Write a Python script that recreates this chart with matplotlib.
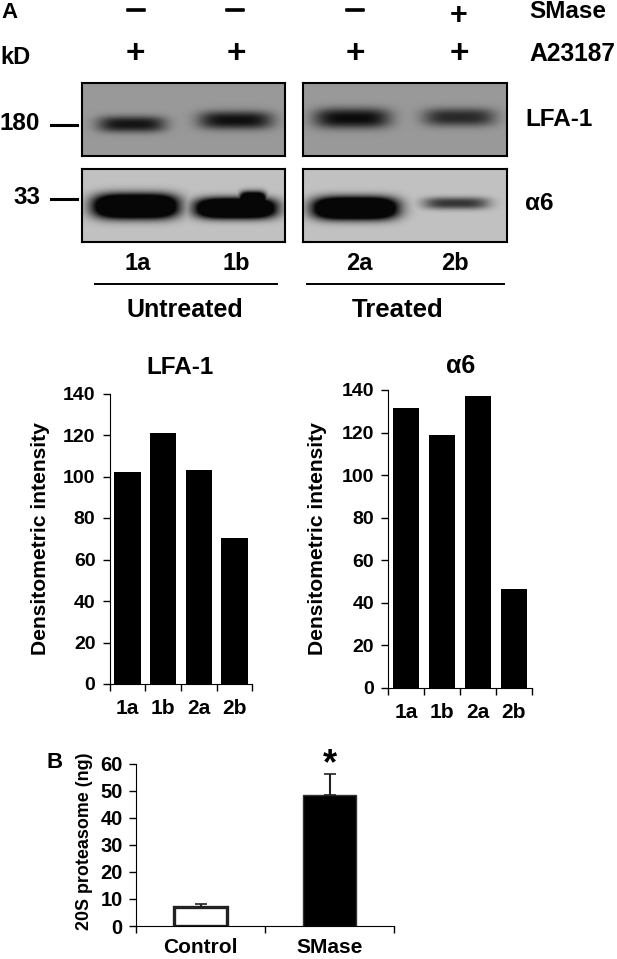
import numpy as np
import matplotlib
matplotlib.use('Agg')
import matplotlib.pyplot as plt
import matplotlib.patheffects as pe

W, H = 617, 959
plt.rcParams['font.family'] = ['Liberation Sans', 'DejaVu Sans']
plt.rcParams['font.weight'] = 'bold'

# Data
lanes = ['1a', '1b', '2a', '2b']
lfa1_values = [102, 121, 103, 70.5]
a6_values = [131.5, 119, 137, 46.5]
groups = ['Control', 'SMase']
proteasome = [7.2, 48.2]
proteasome_err = [0.8, 7.8]
density_ticks = [0, 20, 40, 60, 80, 100, 120, 140]
proteasome_ticks = [0, 10, 20, 30, 40, 50, 60]

# blot bands: centre x, centre y, half width, half height, darkness (pixels)
lfa_left = [(132, 124, 34, 8, 0.52), (236, 120, 37, 9, 0.54)]
lfa_right = [(352, 118, 38, 10, 0.56), (459, 117, 36, 9, 0.44)]
a6_left = [(136, 206, 42, 12, 1.6), (236, 208, 40, 10, 1.6), (253, 200, 13, 8, 1.6)]
a6_right = [(355, 208, 42, 11, 1.6), (456, 203, 33, 6, 0.55)]


def px_axes(x0, y0, x1, y1):
    return fig.add_axes([x0 / W, 1 - y1 / H, (x1 - x0) / W, (y1 - y0) / H])


def blot(box, bands, bg):
    ax = px_axes(*box)
    xs, ys = np.meshgrid(np.arange(box[0], box[2], 0.5), np.arange(box[1], box[3], 0.5))
    dark = np.zeros_like(xs)
    for cx, cy, hw, hh, d in bands:
        r = np.abs((xs - cx) / hw) ** 4 + np.abs((ys - cy) / hh) ** 2.5
        dark = np.maximum(dark, d * np.exp(-r))
    img = np.clip(bg - dark, 0.03, 1)
    ax.imshow(img, cmap='gray', vmin=0, vmax=1, aspect='auto', interpolation='bilinear')
    ax.set_xticks([])
    ax.set_yticks([])
    for s in ax.spines.values():
        s.set_linewidth(1.5)


def bar_chart(box, values, title, title_x, title_y, title_size, label_x):
    ax = px_axes(*box)
    ax.bar(range(4), values, width=0.74, color='black')
    ax.set_xlim(-0.5, 3.5)
    ax.set_ylim(0, 140)
    ax.set_yticks(density_ticks)
    ax.set_xticks(np.arange(-0.5, 4, 1), minor=False)
    ax.set_xticklabels([])
    for i, lab in enumerate(lanes):
        ax.annotate(lab, (i, 0), xytext=(0, -11), textcoords='offset points',
                    ha='center', va='top', fontsize=15)
    ax.tick_params(axis='y', labelsize=14, width=1, length=4.7, pad=5.4)
    ax.tick_params(axis='x', width=1, length=4.7, direction='out')
    ax.spines['top'].set_visible(False)
    ax.spines['right'].set_visible(False)
    ax.set_ylabel('Densitometric intensity', fontsize=15.2, fontweight='bold')
    ax.yaxis.set_label_coords((label_x - box[0]) / (box[2] - box[0]), 0.5)
    ov.text(title_x, title_y, title, ha='center', va='center', fontsize=title_size)


fig = plt.figure(figsize=(W / 100, H / 100), dpi=100)
ov = fig.add_axes([0, 0, 1, 1])
ov.set_xlim(0, W)
ov.set_ylim(H, 0)
ov.axis('off')

# Panel A header
ov.text(1, 13, 'A', fontsize=16, ha='left', va='center')
ov.text(0, 57, 'kD', fontsize=17, ha='left', va='center')
ov.text(529, 11, 'SMase', fontsize=17.5, ha='left', va='center')
ov.text(529, 54, 'A23187', fontsize=17.7, ha='left', va='center')
for x in [136, 235, 355]:
    ov.text(x, 10, '\u2014', fontsize=13, ha='center', va='center',
            path_effects=[pe.withStroke(linewidth=1.2, foreground='black')])
ov.text(459, 0.5, '+', fontsize=22, ha='center', va='top')
for x in [135, 236, 355, 459]:
    ov.text(x, 54, '+', fontsize=24, ha='center', va='center')

# Blots
blot((82.5, 83, 284.5, 156), lfa_left, 0.60)
blot((303, 83, 507, 156), lfa_right, 0.60)
blot((82.5, 169, 284.5, 242), a6_left, 0.76)
blot((303, 169, 507, 242), a6_right, 0.76)

ov.text(20, 124, '180', fontsize=17.5, ha='center', va='center')
ov.text(27, 198, '33', fontsize=17.5, ha='center', va='center')
ov.plot([50.5, 77], [125, 125], color='k', lw=2.2)
ov.plot([50.5, 77], [199, 199], color='k', lw=2.2)
ov.text(525, 119, 'LFA-1', fontsize=17.5, ha='left', va='center')
ov.text(525, 203, '\u03b16', fontsize=17.5, ha='left', va='center')
for x, y, s in zip([138, 236, 359, 455], [264, 263, 264, 263], lanes):
    ov.text(x, y, s, fontsize=17, ha='center', va='center')
ov.plot([95, 277], [284, 284], color='k', lw=1.4)
ov.plot([307, 504], [284, 284], color='k', lw=1.4)
ov.text(185, 310, 'Untreated', fontsize=18, ha='center', va='center')
ov.text(398, 310, 'Treated', fontsize=18.5, ha='center', va='center')

# Densitometry charts
bar_chart((109.5, 393.5, 252.5, 684), lfa1_values, 'LFA-1', 180, 367, 17.5, 50)
bar_chart((388, 390, 532, 688), a6_values, '\u03b16', 461, 366, 18, 327)

# Panel B
ov.text(47, 762, 'B', fontsize=16, ha='left', va='center')
box_b = (136, 763.5, 394, 926)
ax = px_axes(*box_b)
ax.bar([0], proteasome[0], width=0.41, facecolor='white', edgecolor='#222222', linewidth=2.4)
ax.bar([1], proteasome[1], width=0.41, color='black', edgecolor='#333333', linewidth=1)
ax.errorbar([0, 1], proteasome, yerr=[[0, 0], proteasome_err], fmt='none', ecolor='#222222',
            elinewidth=1.5, capsize=4.3, capthick=1.2)
ax.set_xlim(-0.5, 1.5)
ax.set_ylim(0, 60)
ax.set_yticks(proteasome_ticks)
ax.set_xticks([-0.5, 0.5, 1.5])
ax.set_xticklabels([])
for i, lab in enumerate(groups):
    ax.annotate(lab, (i, 0), xytext=(0, -8.6), textcoords='offset points',
                ha='center', va='top', fontsize=15)
ax.tick_params(axis='y', labelsize=14.5, width=1, length=4.8, pad=4.7)
ax.tick_params(axis='x', width=1, length=4.8)
ax.spines['top'].set_visible(False)
ax.spines['right'].set_visible(False)
ax.set_ylabel('20S proteasome (ng)', fontsize=12.9, fontweight='bold')
ax.yaxis.set_label_coords((93 - box_b[0]) / (box_b[2] - box_b[0]), (926 - 841) / (926 - 763.5))
ax.annotate('*', (1, proteasome[1] + proteasome_err[1]), xytext=(0, -6), textcoords='offset points',
            ha='center', va='bottom', fontsize=26)

fig.savefig('out.png', dpi=100)
